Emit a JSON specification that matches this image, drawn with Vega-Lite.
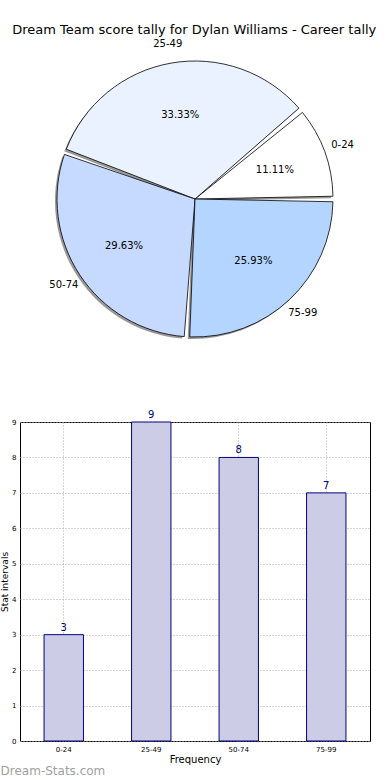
{
  "$schema": "https://vega.github.io/schema/vega-lite/v6.json",
  "padding": {"left": 0, "top": 24, "right": 0, "bottom": 2},
  "bounds": "flush",
  "spacing": 70,
  "title": {"text": "Dream Team score tally for Dylan Williams - Career tally", "fontSize": 13, "font": "DejaVu Sans", "fontWeight": "normal", "anchor": "middle", "offset": 2, "dx": 9, "color": "black"},
  "config": {"font": "DejaVu Sans", "view": {"stroke": null}},
  "data": {"values": [
    {"range": "0-24", "count": 3, "pct": "11.11%"},
    {"range": "25-49", "count": 9, "pct": "33.33%"},
    {"range": "50-74", "count": 8, "pct": "29.63%"},
    {"range": "75-99", "count": 7, "pct": "25.93%"}
  ]},
  "vconcat": [
    {
      "width": 350,
      "height": 306,
      "view": {"stroke": null},
      "layer": [
        {
          "mark": {"type": "arc", "radius": 138, "padAngle": 0.04, "fill": "#7f7f7f", "fillOpacity": 0.8, "xOffset": -2, "yOffset": 2},
          "encoding": {
            "theta": {"field": "count", "type": "quantitative", "stack": true, "scale": {"range": [1.5708, 7.854]}},
            "order": {"field": "range", "sort": "descending"}
          }
        },
        {
          "mark": {"type": "arc", "radius": 138, "padAngle": 0.04, "stroke": "black", "strokeWidth": 0.8},
          "encoding": {
            "theta": {"field": "count", "type": "quantitative", "stack": true, "scale": {"range": [1.5708, 7.854]}},
            "order": {"field": "range", "sort": "descending"},
            "color": {"field": "range", "type": "nominal", "legend": null, "scale": {"domain": ["0-24", "25-49", "50-74", "75-99"], "range": ["#ffffff", "#eaf1ff", "#c6d9ff", "#b3d5ff"]}}
          }
        },
        {
          "mark": {"type": "text", "radius": 85, "fontSize": 10, "color": "black"},
          "encoding": {
            "theta": {"field": "count", "type": "quantitative", "stack": true, "scale": {"range": [1.5708, 7.854]}},
            "order": {"field": "range", "sort": "descending"},
            "text": {"field": "pct", "type": "nominal"}
          }
        },
        {
          "mark": {"type": "text", "radius": 157, "fontSize": 10, "color": "black"},
          "encoding": {
            "theta": {"field": "count", "type": "quantitative", "stack": true, "scale": {"range": [1.5708, 7.854]}},
            "order": {"field": "range", "sort": "descending"},
            "text": {"field": "range", "type": "nominal"}
          }
        }
      ]
    },
    {
      "width": 350,
      "height": 319,
      "view": {"stroke": "black", "strokeWidth": 1},
      "title": {"text": "Dream-Stats.com", "orient": "bottom", "anchor": "start", "frame": "bounds", "fontSize": 12, "fontWeight": "normal", "color": "#a0a0a0", "offset": 2},
      "encoding": {
        "x": {"field": "range", "type": "nominal", "sort": ["0-24", "25-49", "50-74", "75-99"],
          "scale": {"paddingInner": 0.55, "paddingOuter": 0.275},
          "axis": {"title": "Frequency", "labelAngle": 0, "labelFontSize": 7, "titleFontSize": 10, "titleFontWeight": "normal", "titlePadding": 2, "labelPadding": 4, "domain": false, "ticks": false, "grid": true, "gridDash": [1, 2], "gridColor": "#a8a8a8", "labelColor": "black", "titleColor": "black"}},
        "y": {"field": "count", "type": "quantitative", "scale": {"domain": [0, 9], "nice": false},
          "axis": {"title": "Stat intervals", "values": [0, 1, 2, 3, 4, 5, 6, 7, 8, 9], "labelFontSize": 7, "titleFontSize": 9, "titleFontWeight": "normal", "titlePadding": 2, "labelPadding": 4, "domain": false, "ticks": false, "grid": true, "gridDash": [1, 2], "gridColor": "#a8a8a8", "labelColor": "black", "titleColor": "black"}}
      },
      "layer": [
        {"mark": {"type": "bar", "fill": "#ccccE6", "stroke": "#000080", "strokeWidth": 1}},
        {"mark": {"type": "text", "dy": -7, "fontSize": 10, "color": "#000080"},
         "encoding": {"text": {"field": "count", "type": "quantitative"}}}
      ]
    }
  ]
}
